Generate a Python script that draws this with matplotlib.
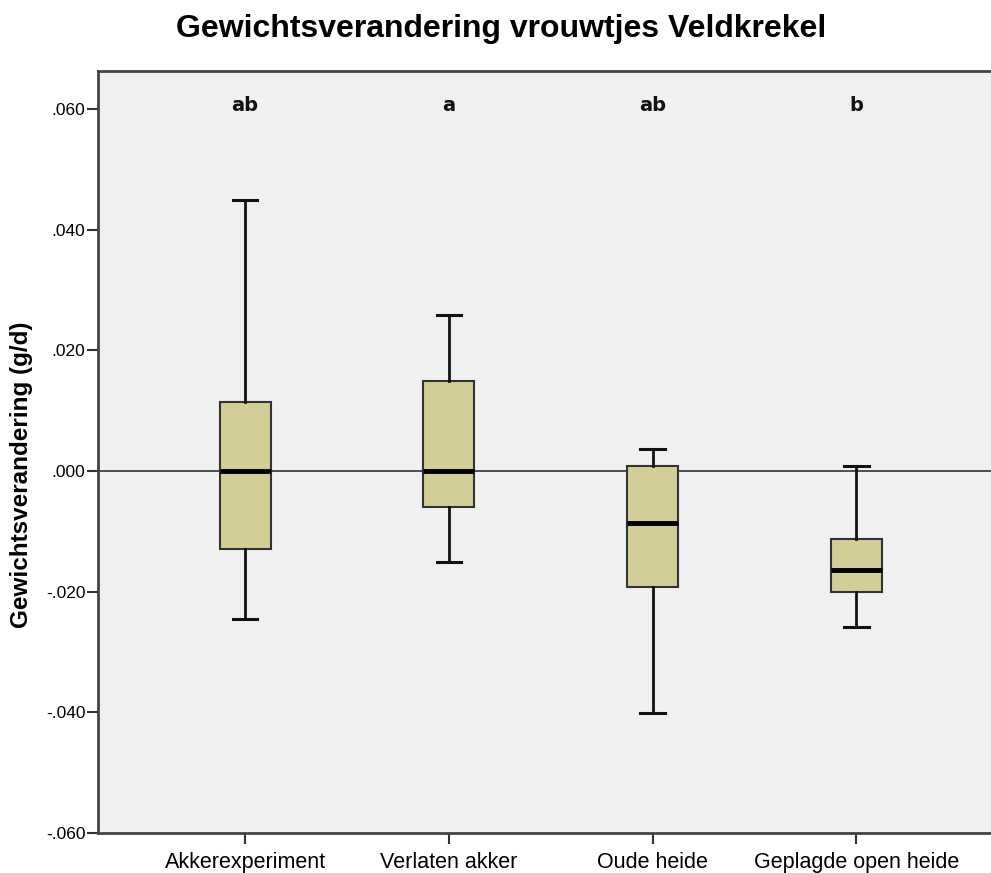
import matplotlib
matplotlib.use('Agg')
import matplotlib.pyplot as plt

# --- data ---
categories = ['Akkerexperiment', 'Verlaten akker', 'Oude heide', 'Geplagde open heide']
whisk_lo = [-0.0245, -0.0151, -0.0401, -0.0259]
q1 = [-0.0129, -0.0059, -0.0192, -0.0201]
medians = [0.0, 0.0, -0.0086, -0.0164]
q3 = [0.0115, 0.0150, 0.0008, -0.0112]
whisk_hi = [0.0450, 0.0258, 0.0036, 0.0008]
letters = ['ab', 'a', 'ab', 'b']
yticks = [-0.06, -0.04, -0.02, 0.0, 0.02, 0.04, 0.06]
ytick_labels = ['-.060', '-.040', '-.020', '.000', '.020', '.040', '.060']

plt.rcParams['font.family'] = ['Liberation Sans', 'DejaVu Sans']

fig = plt.figure(figsize=(9.91, 8.73), dpi=100)
ax = fig.add_axes([98 / 991, 40 / 873, 905 / 991, 762 / 873])
ax.set_facecolor('#f0f0f0')

positions = list(range(1, len(categories) + 1))
stats = []
for i in range(len(categories)):
    stats.append(dict(med=medians[i], q1=q1[i], q3=q3[i],
                      whislo=whisk_lo[i], whishi=whisk_hi[i], fliers=[]))

ax.axhline(0, color='#222222', lw=1.1, zorder=1)

ax.bxp(stats, positions=positions, widths=0.25, capwidths=0.12,
       patch_artist=True, showfliers=False,
       boxprops=dict(facecolor='#d3ce97', edgecolor='#333333', lw=1.5),
       medianprops=dict(color='black', lw=3.5),
       whiskerprops=dict(color='#111111', lw=2),
       capprops=dict(color='#111111', lw=2.2),
       zorder=3)

for p, t in zip(positions, letters):
    ax.text(p, 0.0606, t, ha='center', va='center', fontsize=14,
            fontweight='bold', family='DejaVu Sans', color='#111111')

ax.set_xlim(0.278, 4.72)
ax.set_ylim(-0.060, 0.0663)
ax.set_yticks(yticks)
ax.set_yticklabels(ytick_labels, fontsize=12.5)
ax.set_xticks(positions)
ax.set_xticklabels(categories, fontsize=15.5)
ax.tick_params(axis='both', direction='out', length=8, width=1.5, color='#333333')
ax.tick_params(axis='x', pad=6)
ax.tick_params(axis='y', pad=1)

for side in ['left', 'top', 'bottom']:
    ax.spines[side].set_color('#444444')
    ax.spines[side].set_linewidth(2)
ax.spines['right'].set_visible(False)

ax.set_ylabel('Gewichtsverandering (g/d)', fontsize=17.5, fontweight='bold')
ax.yaxis.set_label_coords(-0.0718, (873 - 475 - 40) / 762)
fig.text(501 / 991, 1 - 37 / 873, 'Gewichtsverandering vrouwtjes Veldkrekel',
         ha='center', va='baseline', fontsize=23, fontweight='bold')

fig.savefig('out.png', dpi=100)
